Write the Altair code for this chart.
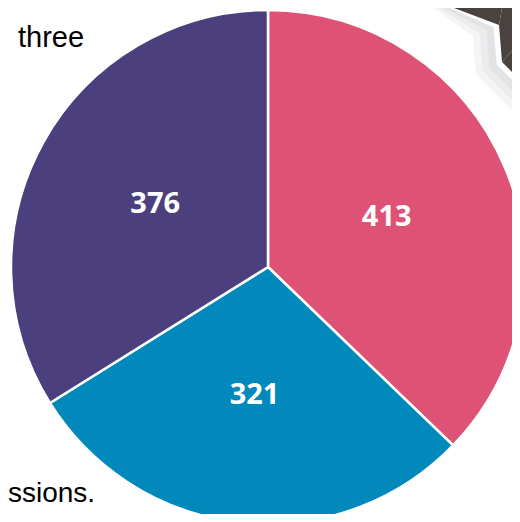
import altair as alt
import numpy as np
import pandas as pd

# ---- data ----
categories = ["A", "B", "C"]
values = [413, 321, 376]
labels = ["413", "321", "376"]
slice_order = [0, 1, 2]
colors = ["#DE5275", "#0089BA", "#4B3F7D"]

note_top = ["three"]
note_bottom = ["ssions."]

df = pd.DataFrame({"cat": categories, "value": values, "label": labels, "ord": slice_order})

CX, CY, R = 260, 259, 257

# ---- decorative slide corner (top right) ----
corner = np.array([[446, -33], [491, 17], [494, 54], [542, 102]], dtype=float)


def offset_poly(pts, d):
    segs = []
    for a, b in zip(pts[:-1], pts[1:]):
        u = (b - a) / np.linalg.norm(b - a)
        n = np.array([-u[1], u[0]])
        segs.append((a + n * d, u))
    out = [segs[0][0]]
    for (p1, u1), (p2, u2) in zip(segs[:-1], segs[1:]):
        A = np.array([u1, -u2]).T
        t = np.linalg.solve(A, p2 - p1)
        out.append(p1 + u1 * t[0])
    last_p, last_u = segs[-1]
    seg_len = np.linalg.norm(pts[-1] - pts[-2])
    out.append(last_p + last_u * seg_len)
    return np.array(out)


deco_layers = []
for d, col in [(27, "#F4F4F5"), (20, "#ECECEE"), (13, "#E2E3E5"), (5.5, "#FFFFFF"), (0, "#4A423E")]:
    p = offset_poly(corner, d)
    ddf = pd.DataFrame({"x": p[:, 0], "y": p[:, 1], "i": range(len(p))})
    deco_layers.append(
        alt.Chart(ddf)
        .mark_area(color=col, interpolate="linear", orient="vertical")
        .encode(
            x=alt.X("x:Q", scale=None, axis=None),
            y=alt.Y("y:Q", scale=None, axis=None),
            y2=alt.value(-60),
            order=alt.Order("i:Q"),
        )
    )

# ---- pie ----
base = alt.Chart(df).encode(
    theta=alt.Theta("value:Q", stack=True),
    order=alt.Order("ord:Q"),
    color=alt.Color("cat:N", scale=alt.Scale(domain=categories, range=colors), legend=None),
)

arcs = base.mark_arc(radius=R, stroke="white", strokeWidth=2.5).encode(
    x=alt.value(CX), y=alt.value(CY)
)

texts = base.mark_text(
    radius=129, font="Open Sans", fontSize=29, fontWeight="bold", baseline="middle", align="center"
).encode(
    text="label:N", color=alt.value("white"), x=alt.value(CX), y=alt.value(CY)
)

# ---- slide text fragments ----
t1 = alt.Chart(pd.DataFrame({"t": note_top})).mark_text(
    align="left", baseline="alphabetic", font="Liberation Sans", fontSize=29, color="#000000"
).encode(x=alt.value(10), y=alt.value(39), text="t:N")

t2 = alt.Chart(pd.DataFrame({"t": note_bottom})).mark_text(
    align="left", baseline="alphabetic", font="Liberation Sans", fontSize=28, color="#000000"
).encode(x=alt.value(0), y=alt.value(494), text="t:N")

chart = alt.layer(*deco_layers, arcs, texts, t1, t2).properties(
    width=504, height=506, padding=0, autosize=alt.AutoSizeParams(type="none")
).configure_view(stroke=None)

chart.save("out.html", embed_options={"renderer": "svg", "actions": False})
